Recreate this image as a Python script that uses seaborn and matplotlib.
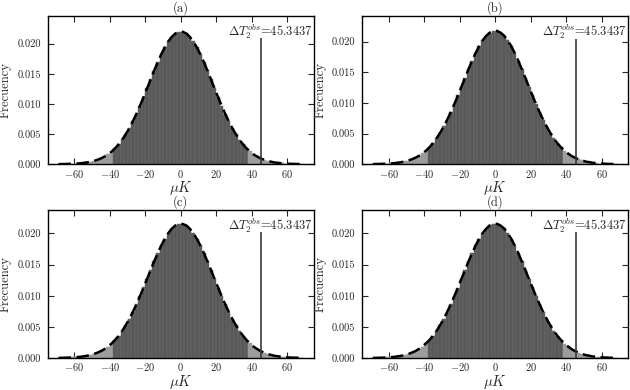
import numpy as np
import pandas as pd
import matplotlib
matplotlib.use("Agg")
import matplotlib.pyplot as plt
import seaborn as sns

# ---------------- data ----------------
bin_edges = list(range(-70, 72, 2))          # 70 bins of width 2 (muK)
bin_centers = [e + 1 for e in bin_edges[:-1]]

panel_labels = ["(a)", "(b)", "(c)", "(d)"]
obs_value = 45.3437
obs_text = r"$\Delta T_2^{obs}$=45.3437"

freq_a = [0.00001, 0.00002, 0.00003, 0.00005, 0.00007, 0.00010, 0.00015, 0.00021, 0.00029, 0.00040,
          0.00054, 0.00073, 0.00097, 0.00127, 0.00164, 0.00210, 0.00266, 0.00332, 0.00410, 0.00499,
          0.00601, 0.00714, 0.00839, 0.00972, 0.01114, 0.01260, 0.01408, 0.01555, 0.01695, 0.01825,
          0.01942, 0.02040, 0.02117, 0.02170, 0.02197,
          0.02198, 0.02171, 0.02116, 0.02041, 0.01941, 0.01826, 0.01694, 0.01556, 0.01407, 0.01261,
          0.01113, 0.00973, 0.00838, 0.00715, 0.00600, 0.00500, 0.00409, 0.00333, 0.00265, 0.00211,
          0.00163, 0.00128, 0.00096, 0.00074, 0.00053, 0.00041, 0.00028, 0.00022, 0.00014, 0.00011,
          0.00007, 0.00005, 0.00003, 0.00002, 0.00001]

freq_b = [0.00002, 0.00003, 0.00004, 0.00006, 0.00008, 0.00012, 0.00017, 0.00024, 0.00033, 0.00044,
          0.00060, 0.00080, 0.00105, 0.00136, 0.00175, 0.00222, 0.00279, 0.00346, 0.00425, 0.00515,
          0.00616, 0.00729, 0.00853, 0.00984, 0.01124, 0.01267, 0.01411, 0.01554, 0.01690, 0.01817,
          0.01929, 0.02024, 0.02098, 0.02150, 0.02176,
          0.02177, 0.02149, 0.02099, 0.02023, 0.01930, 0.01816, 0.01691, 0.01553, 0.01412, 0.01266,
          0.01125, 0.00983, 0.00854, 0.00728, 0.00617, 0.00514, 0.00426, 0.00345, 0.00280, 0.00221,
          0.00176, 0.00135, 0.00106, 0.00079, 0.00061, 0.00043, 0.00034, 0.00023, 0.00018, 0.00011,
          0.00009, 0.00005, 0.00004, 0.00003, 0.00002]

freq_c = [0.00002, 0.00003, 0.00005, 0.00007, 0.00009, 0.00013, 0.00019, 0.00026, 0.00036, 0.00048,
          0.00065, 0.00086, 0.00112, 0.00145, 0.00185, 0.00234, 0.00292, 0.00360, 0.00439, 0.00530,
          0.00631, 0.00744, 0.00866, 0.00996, 0.01133, 0.01273, 0.01414, 0.01553, 0.01685, 0.01808,
          0.01916, 0.02008, 0.02080, 0.02129, 0.02154,
          0.02153, 0.02130, 0.02079, 0.02009, 0.01915, 0.01809, 0.01684, 0.01554, 0.01413, 0.01274,
          0.01132, 0.00997, 0.00865, 0.00745, 0.00630, 0.00531, 0.00438, 0.00361, 0.00291, 0.00235,
          0.00184, 0.00146, 0.00111, 0.00087, 0.00064, 0.00049, 0.00035, 0.00027, 0.00018, 0.00014,
          0.00009, 0.00006, 0.00005, 0.00003, 0.00002]

freq_d = [0.00002, 0.00003, 0.00005, 0.00006, 0.00009, 0.00014, 0.00018, 0.00027, 0.00035, 0.00049,
          0.00064, 0.00087, 0.00111, 0.00146, 0.00184, 0.00235, 0.00291, 0.00361, 0.00438, 0.00531,
          0.00630, 0.00745, 0.00865, 0.00997, 0.01132, 0.01274, 0.01413, 0.01554, 0.01684, 0.01809,
          0.01915, 0.02009, 0.02079, 0.02130, 0.02153,
          0.02155, 0.02128, 0.02081, 0.02007, 0.01917, 0.01807, 0.01686, 0.01552, 0.01415, 0.01272,
          0.01134, 0.00995, 0.00867, 0.00743, 0.00632, 0.00529, 0.00440, 0.00359, 0.00293, 0.00233,
          0.00186, 0.00144, 0.00113, 0.00085, 0.00066, 0.00047, 0.00037, 0.00025, 0.00020, 0.00013,
          0.00009, 0.00007, 0.00004, 0.00003, 0.00002]

all_freqs = [freq_a, freq_b, freq_c, freq_d]
obs_line_tops = [0.0209, 0.0205, 0.0202, 0.0202]
y_tops = [0.0246, 0.0242, 0.0238, 0.0238]
x_ticks = [-60, -40, -20, 0, 20, 40, 60]
y_ticks = [0.000, 0.005, 0.010, 0.015, 0.020]

# ---------------- style ----------------
sns.set_style("ticks")
plt.rcParams["font.family"] = ["cmr10", "DejaVu Serif"]
plt.rcParams["mathtext.fontset"] = "cm"
plt.rcParams["axes.formatter.use_mathtext"] = True
plt.rcParams["axes.unicode_minus"] = True

fig = plt.figure(figsize=(6.3, 3.9), dpi=100)
boxes = [
    [0.076, 0.579, 0.422, 0.380],
    [0.575, 0.579, 0.422, 0.380],
    [0.076, 0.082, 0.422, 0.380],
    [0.575, 0.082, 0.422, 0.380],
]

dark = "#585858"
light = "#9c9c9c"

for i, (box, freqs) in enumerate(zip(boxes, all_freqs)):
    ax = fig.add_axes(box)
    df = pd.DataFrame({"uK": bin_centers, "freq": freqs})
    sns.histplot(data=df, x="uK", weights="freq", binwidth=2,
                 binrange=(bin_edges[0], bin_edges[-1]), stat="count",
                 color=dark, alpha=1, edgecolor="#6e6e6e", linewidth=0.35, ax=ax)
    for p in ax.patches:
        c = p.get_x() + p.get_width() / 2
        if abs(c) > 38:
            p.set_facecolor(light)
            p.set_edgecolor(light)
    sns.lineplot(data=df, x="uK", y="freq", ax=ax, color="black", lw=1.8,
                 linestyle=(0, (5, 2.2)))
    ax.vlines(obs_value, 0, obs_line_tops[i], color="#3a3a3a", lw=1.2)
    ax.text(0.995, 0.89, obs_text, transform=ax.transAxes, ha="right",
            va="center", fontsize=9)
    ax.set_xlim(-75, 75)
    ax.set_ylim(0, y_tops[i])
    ax.set_xticks(x_ticks)
    ax.set_yticks(y_ticks)
    ax.set_yticklabels([f"{v:.3f}" for v in y_ticks])
    ax.tick_params(direction="in", top=True, right=True, labelsize=7.5,
                   length=4, width=0.8)
    ax.tick_params(axis="x", pad=2.5)
    ax.tick_params(axis="y", pad=5)
    for s in ax.spines.values():
        s.set_linewidth(1.0)
        s.set_color("black")
    ax.set_title(panel_labels[i], fontsize=9, pad=3)
    ax.set_xlabel(r"$\mu K$", fontsize=10.5)
    ax.xaxis.set_label_coords(0.5, -0.098)
    ax.set_ylabel("Frecuency", fontsize=9)
    ax.yaxis.set_label_coords(-0.135, 0.5)

fig.savefig("out.png", dpi=100)
